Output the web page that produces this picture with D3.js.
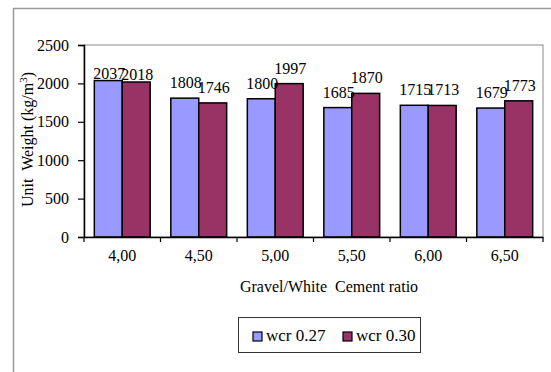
<!DOCTYPE html>
<html><head><meta charset="utf-8">
<script src="https://cdn.jsdelivr.net/npm/d3@7"></script>
<style>body{margin:0;background:#fff}svg{display:block}</style>
</head><body>
<svg id="c" width="551" height="372" font-family="Liberation Serif"></svg>
<script>
const categories = ["4,00","4,50","5,00","5,50","6,00","6,50"];
const seriesNames = ["wcr 0.27","wcr 0.30"];
const wcr027 = [2037,1808,1800,1685,1715,1679];
const wcr030 = [2018,1746,1997,1870,1713,1773];
const yTicks = [0,500,1000,1500,2000,2500];
const colors = ["#9999FF","#993366"];
const FONT = "Liberation Serif";

const svg = d3.select("#c");
const m = {l:84, t:45, r:543, b:237};
const x = d3.scaleBand().domain(categories).range([m.l, m.r]).paddingInner(0).paddingOuter(0);
const inner = d3.scaleBand().domain(seriesNames).range([0, x.bandwidth()]).paddingInner(0).paddingOuter(0.37);
const y = d3.scaleLinear().domain([0,2500]).range([m.b, m.t]);

// outer frame
svg.append("path").attr("d","M13.5,372 V8.5 H551").attr("fill","none").attr("stroke","#9a9a9a").attr("stroke-width",1.5);
// plot border
svg.append("rect").attr("x",m.l).attr("y",m.t).attr("width",m.r-m.l).attr("height",m.b-m.t)
  .attr("fill","none").attr("stroke","#8c8c8c").attr("stroke-width",1);

const data = categories.map((c,i)=>({c, vals:[wcr027[i], wcr030[i]]}));
const labelLift = categories.map((c,i)=> i===0 ? 2 : 10);

const g = svg.append("g");
data.forEach((d,i)=>{
  d.vals.forEach((v,j)=>{
    const bx = x(d.c)+inner(seriesNames[j]);
    g.append("rect").attr("x",bx).attr("y",y(v)).attr("width",inner.bandwidth()).attr("height",y(0)-y(v))
      .attr("fill",colors[j]).attr("stroke","#000").attr("stroke-width",1.5);
  });
});
data.forEach((d,i)=>{
  d.vals.forEach((v,j)=>{
    const bx = x(d.c)+inner(seriesNames[j])+inner.bandwidth()/2;
    g.append("text").attr("x",bx+1).attr("y",y(v)-labelLift[i]).attr("text-anchor","middle")
      .attr("font-size",16).attr("font-family",FONT).attr("fill","#000").text(v);
  });
});

// y axis
const ya = svg.append("g").attr("transform",`translate(${m.l},0)`)
  .call(d3.axisLeft(y).tickValues(yTicks).tickFormat(d3.format("d")).tickSize(6).tickPadding(9));
ya.attr("font-family",FONT).attr("font-size",16);
ya.select(".domain").attr("stroke","#000").attr("stroke-width",1.5);
ya.selectAll(".tick line").attr("stroke","#000").attr("stroke-width",1.2);
ya.selectAll("text").attr("fill","#000");

// x axis
const xa = svg.append("g").attr("transform",`translate(0,${m.b})`)
  .call(d3.axisBottom(x).tickSize(0).tickPadding(13));
xa.attr("font-family",FONT).attr("font-size",16);
xa.select(".domain").attr("stroke","#000").attr("stroke-width",1.5);
xa.selectAll("text").attr("fill","#000");
const bounds = categories.map(c=>x(c)).concat([x.range()[1]]);
svg.append("g").selectAll("line").data(bounds).join("line")
  .attr("x1",d=>d).attr("x2",d=>d).attr("y1",m.b).attr("y2",m.b+5)
  .attr("stroke","#000").attr("stroke-width",1.2);

// titles
svg.append("text").attr("x",329).attr("y",292).attr("text-anchor","middle").attr("font-size",16)
  .attr("font-family",FONT).style("white-space","pre").text("Gravel/White  Cement ratio");
const yt = svg.append("text").attr("transform","translate(33,207) rotate(-90)").attr("font-size",16)
  .attr("font-family",FONT).style("white-space","pre");
yt.append("tspan").text("Unit  Weight (kg/m");
yt.append("tspan").attr("font-size",11).attr("dy",-6).text("3");
yt.append("tspan").attr("dy",6).text(")");

// legend
const lg = svg.append("g");
lg.append("rect").attr("x",238.5).attr("y",317.5).attr("width",182).attr("height",35)
  .attr("fill","#fff").attr("stroke","#333").attr("stroke-width",1);
const lx = [253, 343];
seriesNames.forEach((s,j)=>{
  lg.append("rect").attr("x",lx[j]).attr("y",332).attr("width",9).attr("height",9)
    .attr("fill",colors[j]).attr("stroke","#000").attr("stroke-width",1.2);
  lg.append("text").attr("x",lx[j]+13).attr("y",341).attr("font-size",17).attr("font-family",FONT).text(s);
});
</script>
</body></html>
